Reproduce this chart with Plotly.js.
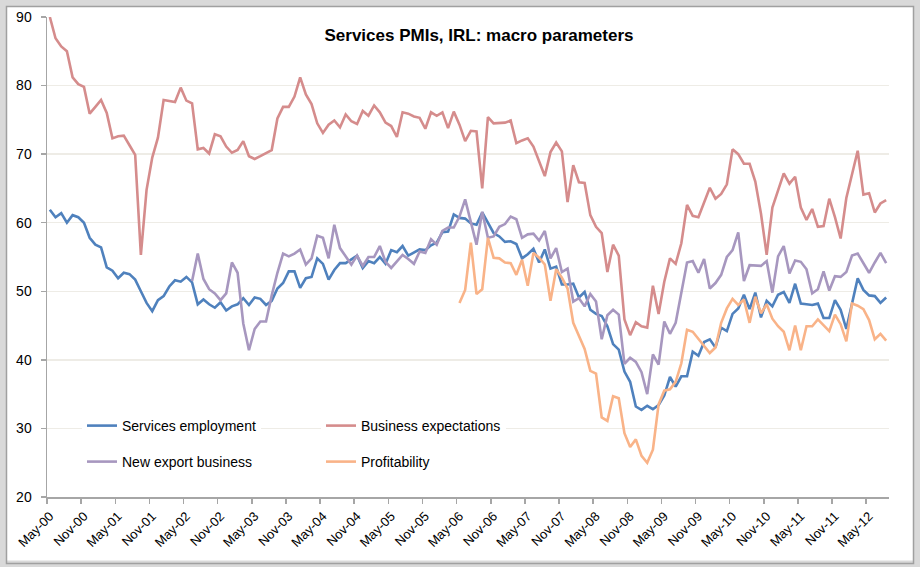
<!DOCTYPE html>
<html><head><meta charset="utf-8">
<script src="https://cdn.plot.ly/plotly-3.0.1.min.js"></script>
<style>html,body{margin:0;padding:0;background:#fff}#chart{width:920px;height:567px}</style>
</head><body><div id="chart"></div>
<script>
// ---- data (monthly, May-00 .. Aug-12) ----
const firstMonth = 'May-00';
const tickLabels = ['May-00','Nov-00','May-01','Nov-01','May-02','Nov-02','May-03','Nov-03','May-04','Nov-04','May-05','Nov-05','May-06','Nov-06','May-07','Nov-07','May-08','Nov-08','May-09','Nov-09','May-10','Nov-10','May-11','Nov-11','May-12'];

const employment = [61.9,60.8,61.4,60,61.1,60.8,60,57.8,56.8,56.4,53.5,53,51.9,52.7,52.5,51.7,50,48.3,47.1,48.7,49.3,50.7,51.6,51.4,52.1,51.3,48.1,48.8,48.1,47.6,48.4,47.2,47.8,48.1,49,48,49.1,48.9,48,48.6,50.4,51.2,52.9,52.9,50.5,51.9,52.1,54.8,54,51.7,53.1,54.1,54.1,54.6,55.2,53.4,54.4,54.1,55,54,56,55.7,56.6,55.2,55.7,56.1,56,56.7,57.1,58.6,58.7,61.2,60.7,60.6,59.9,59.7,61.5,59.9,58.5,58,57.2,57.3,56.9,54.8,55.4,56.2,54.2,56.1,53.3,53.6,51,51,51.1,49.1,49.9,47.3,46.7,46.4,44.9,42.3,41.5,38.3,36.8,33.2,32.7,33.3,32.8,33.4,34.8,37.5,36.1,37.6,37.6,41.2,40.6,42.6,43,41.8,44.7,44.2,46.7,47.5,49.5,47.4,49.8,46.2,48.6,47.8,49.5,49.9,48.3,51.1,48.2,48.1,48,48.2,46.1,46.1,48.7,47.3,44.5,48.2,51.9,50.2,49.4,49.3,48.3,49.1];

const expectations = [90,86.9,85.7,85,81.2,80.2,79.8,75.9,76.9,77.9,76,72.3,72.6,72.7,71.3,69.9,55.3,64.8,69.5,72.4,77.9,77.7,77.6,79.7,77.8,77.4,70.7,70.9,70.1,72.9,72.6,71.1,70.2,70.6,71.9,69.7,69.3,69.7,70.1,70.6,75.2,76.9,76.9,78.4,81.2,78.7,77.3,74.5,73.1,74.3,74.9,73.9,75.8,74.8,74.4,76.3,75.6,77.1,76.1,74.6,74.1,72.5,76.1,75.9,75.5,75.3,73.7,76.1,75.6,76.1,73.8,76.2,74.3,71.9,73.4,73.3,65,75.4,74.5,74.5,74.6,74.9,71.6,72,72.3,71.1,69,66.8,70.3,71.7,70.4,63,68.4,65.9,65.8,61.1,59.4,58.5,52.8,56.8,55.2,45.9,43.6,45.5,44.9,44.7,50.8,46.7,51.4,54.8,54,57,62.6,61,60.8,63.1,65.1,63.5,64.2,65.6,70.7,70,68.6,68.6,66,61.3,55.3,62.2,64.6,67.2,65.7,66.7,62.2,60.4,62,59.4,59.5,63.5,60.8,57.7,63.6,66.9,70.5,64.1,64.3,61.5,62.8,63.3];

const exportStart = 'Jun-02';
const newExport = [51.5,55.5,51.8,50.3,49.7,48.7,49.7,54.2,52.7,45.3,41.4,44.5,45.6,45.6,49.4,52.7,55.5,55.1,55.5,56.1,53.9,54.8,58.1,57.8,54.8,59.7,56.3,55.1,53.9,55.2,53.7,55,55,56.6,54.3,53.4,54.3,55.3,54.7,54,55.8,55.6,57.6,56.8,58.8,59.3,59.3,60.9,63.4,59.9,56.8,61.6,57.8,58,59.4,59.8,60.9,60.5,57.8,58.3,58.4,57.4,58.8,54.8,56.3,52.8,53.3,48.5,49,47.8,49.6,48.5,43,46.5,47.3,46.6,39.4,40.3,39.7,38.2,35,40.8,39.3,45.6,43.8,45.4,50,54.2,54.4,52.7,54.7,50.4,51.2,52.4,55,56,58.6,51.5,53.8,53.8,53.7,54.4,49.8,55.1,56.6,52.6,54.5,54.3,53.2,49.7,50.3,52.9,50.1,52.2,52.1,52.8,55.2,55.5,54.1,52.7,54.2,55.6,54.1];

const profitStart = 'May-06';
const profitability = [48.3,50.2,57.1,49.6,50.3,57.8,54.9,54.8,54.2,54.1,52.4,54.6,50.8,55.6,54.9,53.9,48.6,53.2,52,50.4,45.4,43.5,41.6,38.4,38,31.6,31.1,34.7,34.4,29.3,27.3,28.4,26,25,26.9,33.5,35.5,35.7,36.8,39.5,44.4,44.1,43.1,42,41,41.8,45.4,47.5,48.9,48,48.8,45.4,49.2,46.8,48.1,46,44.9,44.1,41.4,45,41.4,44.9,44.9,45.9,45.1,44.2,46.6,45.2,42.7,48.2,47.9,47.4,45.8,43,43.8,42.8];

// ---- month categories ----
const monthNames = ['Jan','Feb','Mar','Apr','May','Jun','Jul','Aug','Sep','Oct','Nov','Dec'];
const months = [];
(function(){
  const m0 = monthNames.indexOf(firstMonth.slice(0,3));
  const y0 = 2000 + parseInt(firstMonth.slice(4),10);
  for (let i = 0; i < employment.length; i++) {
    const mi = (m0 + i) % 12, yr = y0 + Math.floor((m0 + i) / 12);
    months.push(monthNames[mi] + '-' + String(yr % 100).padStart(2,'0'));
  }
})();
const idx = months.map((m,i)=>i);
const from = (start, arr) => { const s = months.indexOf(start); return idx.slice(s, s + arr.length); };

// ---- layout helpers ----
const W = 920, H = 567, ML = 47, MR = 31, MT = 17, MB = 70;
const PW = W - ML - MR, PH = H - MT - MB;
const px = v => (v - ML) / PW;
const py = v => (H - MB - v) / PH;
const FONT = 'Liberation Sans, Arial, sans-serif';
const AXC = '#A6A6A6';

const C_EMP = '#4F81BD', C_EXP = '#D58C8C', C_NEW = '#A797BF', C_PRO = '#F9B388';
const LW = 2.6;

const traces = [
  {x: idx, y: employment, name: 'Services employment', type: 'scatter', mode: 'lines', line: {color: C_EMP, width: LW}, legend: 'legend'},
  {x: idx, y: expectations, name: 'Business expectations', type: 'scatter', mode: 'lines', line: {color: C_EXP, width: LW}, legend: 'legend3'},
  {x: from(exportStart, newExport), y: newExport, name: 'New export business', type: 'scatter', mode: 'lines', line: {color: C_NEW, width: LW}, legend: 'legend2'},
  {x: from(profitStart, profitability), y: profitability, name: 'Profitability', type: 'scatter', mode: 'lines', line: {color: C_PRO, width: LW}, legend: 'legend4'}
];

const tickPos = tickLabels.map(l => months.indexOf(l));
const legBase = {xanchor: 'left', yanchor: 'middle', bgcolor: 'rgba(255,255,255,1)', borderwidth: 0, font: {family: FONT, size: 14, color: '#000'}};
const row1 = py(426), row2 = py(462);
const col1 = px(82), col2 = px(321);

const layout = {
  width: W, height: H,
  margin: {l: ML, r: MR, t: MT, b: MB, pad: 0},
  paper_bgcolor: '#ffffff', plot_bgcolor: 'rgba(0,0,0,0)',
  font: {family: FONT, color: '#000'},
  title: {text: '<b>Services PMIs, IRL: macro parameters</b>', x: px(479), xref: 'paper', xanchor: 'center',
          y: 1 - 35 / H, yref: 'container', yanchor: 'middle', font: {family: FONT, size: 17, color: '#000'}},
  xaxis: {range: [-0.5, employment.length - 0.5], tickmode: 'array', tickvals: tickPos, ticktext: tickLabels,
          tickangle: -45, ticks: '', showline: true, linecolor: AXC, linewidth: 1.5, showgrid: false, zeroline: false,
          tickfont: {family: FONT, size: 13, color: '#000'}, ticklabelstandoff: 5,
          minor: {tickmode: 'array', tickvals: tickPos.map(v => v - 0.5), ticks: 'outside', ticklen: 5, tickcolor: AXC, tickwidth: 1.5, showgrid: false}},
  yaxis: {range: [20, 90], tickmode: 'linear', tick0: 20, dtick: 10, ticks: 'outside', ticklen: 5, tickcolor: AXC, tickwidth: 1.5,
          showline: true, linecolor: AXC, linewidth: 1.5, gridcolor: '#EEECE6', gridwidth: 1.5, zeroline: false,
          tickfont: {family: FONT, size: 14, color: '#000'}, ticklabelstandoff: 6},
  legend: Object.assign({x: col1, y: row1}, legBase),
  legend2: Object.assign({x: col1, y: row2}, legBase),
  legend3: Object.assign({x: col2, y: row1}, legBase),
  legend4: Object.assign({x: col2, y: row2}, legBase),
  showlegend: true,
  hovermode: false,
  shapes: [
    {type: 'rect', xref: 'paper', yref: 'paper', x0: px(0), x1: px(W), y0: py(H), y1: py(0), line: {color: '#D9D9D9', width: 13}, fillcolor: 'rgba(0,0,0,0)'},
    {type: 'rect', xref: 'paper', yref: 'paper', x0: px(6.5), x1: px(913.5), y0: py(563.5), y1: py(6.5), line: {color: '#A0A0A0', width: 1.5}, fillcolor: 'rgba(0,0,0,0)'}
  ]
};

Plotly.newPlot('chart', traces, layout, {staticPlot: true, displayModeBar: false});
</script>
</body></html>
